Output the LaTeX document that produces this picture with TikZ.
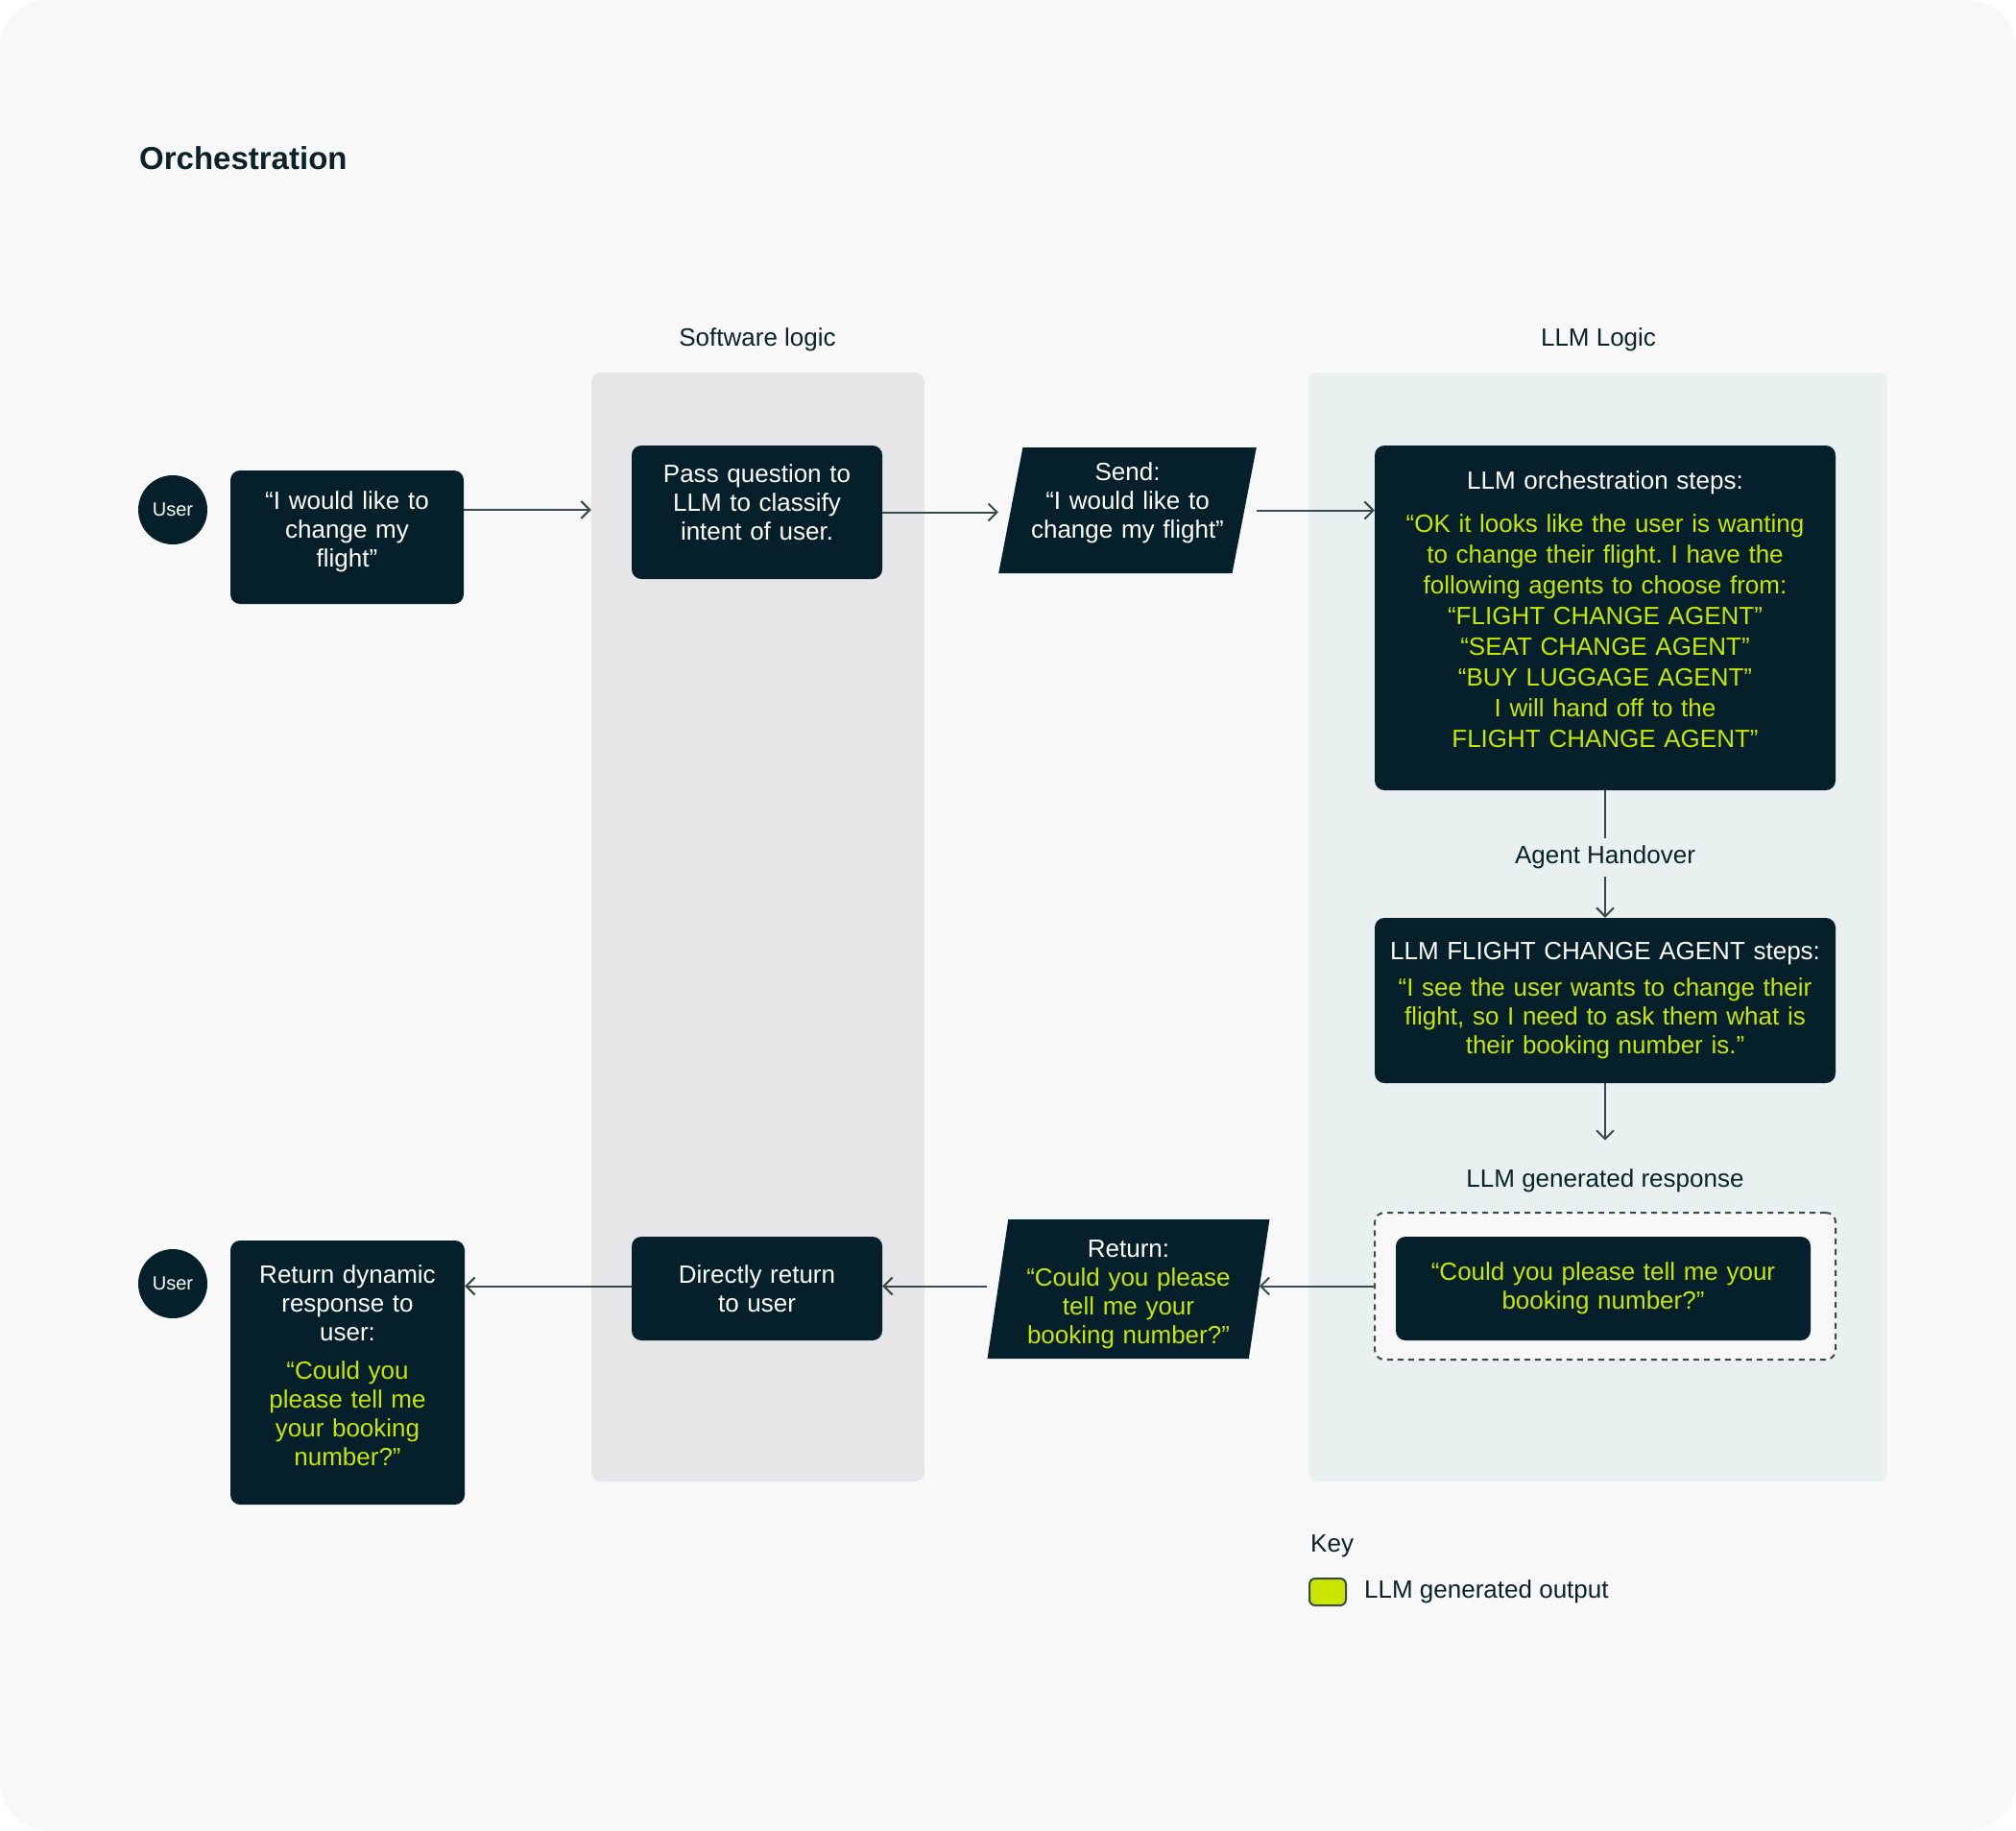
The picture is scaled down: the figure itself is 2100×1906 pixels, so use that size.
\documentclass[tikz,border=0pt]{standalone}
\usepackage{fontspec}
\setmainfont{Liberation Sans}
\usetikzlibrary{arrows.meta,shapes.geometric,positioning}
\frenchspacing

\definecolor{pagebg}{HTML}{F8F8F8}
\definecolor{swlane}{HTML}{E6E6E8}
\definecolor{llmlane}{HTML}{E8F0F0}
\definecolor{boxdark}{HTML}{05202A}
\definecolor{llmlime}{HTML}{C8E600}
\definecolor{ink}{HTML}{0A2228}
\definecolor{wire}{HTML}{3A4A4A}

\newcommand{\bodysize}{\fontsize{26}{30}\selectfont}
\newcommand{\textlift}[1]{\par\vspace*{#1}}

\tikzset{
  lane/.style={rounded corners=10pt, inner sep=0pt},
  darkbox/.style={fill=boxdark, text=white, rounded corners=10pt, align=center, inner sep=0pt, font=\bodysize},
  slantbox/.style={trapezium, trapezium stretches=true, fill=boxdark, text=white, align=center, inner sep=0pt, font=\bodysize},
  userdot/.style={circle, fill=boxdark, text=white, minimum size=72pt, inner sep=0pt, font=\fontsize{20}{24}\selectfont},
  caption/.style={text=ink, font=\bodysize, inner sep=0pt},
  flow/.style={draw=wire, line width=2pt, -{Straight Barb[length=9pt,width=18pt]}},
  wireline/.style={draw=wire, line width=2pt},
}

\begin{document}
\begin{tikzpicture}[x=1pt, y=-1pt]
\useasboundingbox (0,0) rectangle (2100,1906);
\fill[white] (0,0) rectangle (2100,1906);
\fill[pagebg, rounded corners=50pt] (0,0) rectangle (2100,1906);

\node[anchor=west, text=ink, font=\fontsize{33}{40}\selectfont\bfseries, inner sep=0pt] (title) at (145,165) {Orchestration};

\node[lane, fill=swlane, minimum width=347pt, minimum height=1155pt] (swpanel) at (789.5,965.5) {};
\node[lane, fill=llmlane, minimum width=603pt, minimum height=1155pt] (llmpanel) at (1664.5,965.5) {};
\node[caption] (swhead) at (789,354) {Software logic};
\node[caption] (llmhead) at (1665,354) {LLM Logic};

% question in
\node[userdot] (user1) at (180,531) {User};
\node[darkbox, minimum width=243pt, minimum height=139pt, text width=223pt] (ask) at (361.5,559.5) {“I would like to\\change my\\flight”\textlift{12pt}};
\node[darkbox, minimum width=261pt, minimum height=139pt, text width=241pt] (pass) at (788.5,533.5) {Pass question to\\LLM to classify\\intent of user.\textlift{21pt}};
\node[slantbox, trapezium left angle=76, trapezium right angle=104, minimum width=269pt, minimum height=131pt, text width=216pt] (send) at (1174.5,531.5) {Send:\\“I would like to\\change my flight”\textlift{16pt}};
\node[darkbox, minimum width=480pt, minimum height=359pt, text width=460pt, font=\fontsize{26}{32}\selectfont] (orch) at (1672,643.5) {LLM orchestration steps:\\[13pt]\color{llmlime}“OK it looks like the user is wanting\\to change their flight. I have the\\following agents to choose from:\\“FLIGHT CHANGE AGENT”\\“SEAT CHANGE AGENT”\\“BUY LUGGAGE AGENT”\\I will hand off to the\\FLIGHT CHANGE AGENT”\textlift{17pt}};

\draw[flow] (ask.east |- user1) -- (swpanel.west |- user1);
\draw[flow] (pass.east) -- (pass.east -| send.bottom left corner);
\draw[flow] (send.top right corner |- send.center) -- (orch.west |- send.center);

% handover
\node[caption, inner sep=8pt] (handover) at (1672,893) {Agent Handover};
\node[darkbox, minimum width=480pt, minimum height=172pt, text width=460pt] (agent) at (1672,1042) {LLM FLIGHT CHANGE AGENT steps:\\[8pt]\color{llmlime}“I see the user wants to change their\\flight, so I need to ask them what is\\their booking number is.”};
\node[caption] (resplabel) at (1672,1230) {LLM generated response};

\draw[wireline] (orch.south) -- (handover.north);
\draw[flow] (handover.south) -- (agent.north);
\draw[flow, shorten >=30pt] (agent.south) -- (resplabel.north);

% answer out
\node[rounded corners=10pt, draw=wire, dash pattern=on 6pt off 5pt, line width=2pt, fill=pagebg, minimum width=480pt, minimum height=153pt] (respframe) at (1672,1339.5) {};
\node[darkbox, minimum width=432pt, minimum height=108pt, text width=412pt, text=llmlime] (reply) at (1670,1342) {“Could you please tell me your\\booking number?”};
\node[slantbox, trapezium left angle=79, trapezium right angle=101, minimum width=295pt, minimum height=145pt, text width=230pt] (ret) at (1175.5,1342.5) {Return:\\\color{llmlime}“Could you please\\tell me your\\booking number?”\textlift{-11pt}};
\node[darkbox, minimum width=261pt, minimum height=108pt, text width=241pt] (direct) at (788.5,1342) {Directly return\\to user};
\node[darkbox, minimum width=244pt, minimum height=275pt, text width=224pt] (final) at (362,1429.5) {Return dynamic\\response to\\user:\\[10pt]\color{llmlime}“Could you\\please tell me\\your booking\\number?”\textlift{14pt}};
\node[userdot] (user2) at (180,1337) {User};

\draw[flow] (respframe.west) -- (ret.east |- respframe.west);
\draw[flow] (ret.bottom left corner |- respframe.west) -- (direct.east |- respframe.west);
\draw[flow] (direct.west |- respframe.west) -- (final.east |- respframe.west);

% key
\node[caption, anchor=west] (key) at (1365,1610) {Key};
\node[draw=wire, line width=2pt, fill=llmlime, rounded corners=6pt, minimum width=38pt, minimum height=28pt, inner sep=0pt] (swatch) at (1383,1658) {};
\node[caption, right=18pt of swatch] (keytext) {LLM generated output};
\end{tikzpicture}
\end{document}
